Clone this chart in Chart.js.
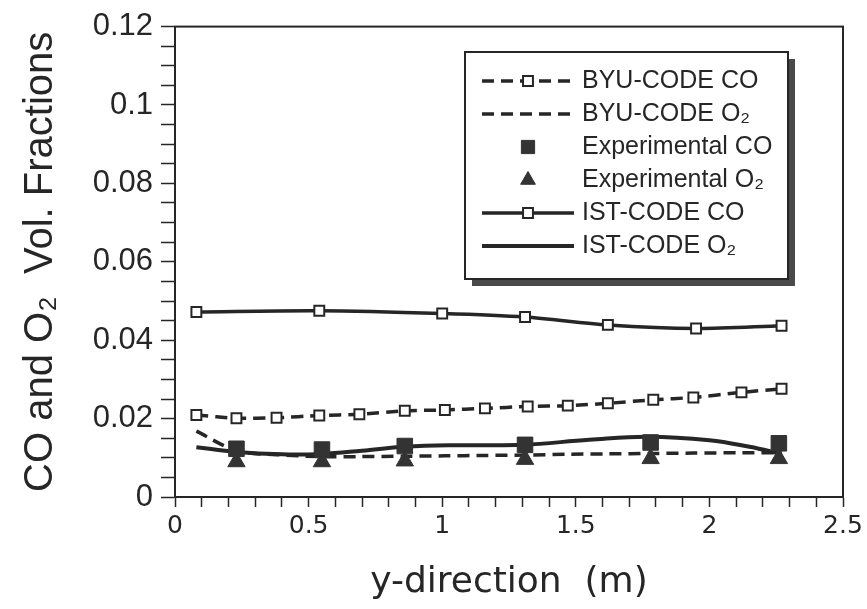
<!DOCTYPE html>
<html>
<head>
<meta charset="utf-8">
<script src="https://cdn.jsdelivr.net/npm/chart.js@4.4.1/dist/chart.umd.min.js"></script>
<style>
  html, body { margin: 0; padding: 0; background: #fff; }
  #wrap { width: 867px; height: 609px; }
</style>
</head>
<body>
<div id="wrap"><canvas id="co-o2-chart" width="867" height="609"></canvas></div>
<script>
// values
const byuX   = [0.08, 0.23, 0.38, 0.54, 0.69, 0.86, 1.01, 1.16, 1.32, 1.47, 1.62, 1.79, 1.94, 2.12, 2.27];
const byuCO  = [0.0209, 0.0201, 0.0202, 0.0208, 0.0211, 0.0220, 0.0222, 0.0226, 0.0231, 0.0233, 0.0239, 0.0248, 0.0254, 0.0267, 0.0276];
const byuO2  = [0.0168, 0.0118, 0.0108, 0.0103, 0.0103, 0.0104, 0.0105, 0.0106, 0.0107, 0.0109, 0.0110, 0.0111, 0.0112, 0.0113, 0.0113];

const expX   = [0.23, 0.55, 0.86, 1.31, 1.78, 2.26];
const expCO  = [0.0123, 0.0121, 0.0130, 0.0133, 0.0139, 0.0137];
const expO2  = [0.0090, 0.0090, 0.0092, 0.0096, 0.0098, 0.0098];

const istCoX = [0.08, 0.54, 1.00, 1.31, 1.62, 1.95, 2.27];
const istCO  = [0.0472, 0.0475, 0.0468, 0.0459, 0.0439, 0.0430, 0.0437];

const istO2X = [0.08, 0.23, 0.40, 0.55, 0.70, 0.86, 1.05, 1.30, 1.55, 1.77, 2.00, 2.15, 2.27];
const istO2  = [0.0127, 0.0115, 0.0109, 0.0110, 0.0118, 0.0128, 0.0132, 0.0133, 0.0146, 0.0154, 0.0145, 0.0128, 0.0110];

const xLabelTicks = ['0', '0.5', '1', '1.5', '2', '2.5'];
const yLabelTicks = ['0', '0.02', '0.04', '0.06', '0.08', '0.1', '0.12'];

const INK = '#262626';

function pts(xs, ys) {
    return xs.map((x, i) => ({ x: x, y: ys[i] }));
}

// full frame round the plot area
const framePlugin = {
    id: 'frame',
    afterDatasetsDraw(chart) {
        const a = chart.chartArea;
        const ctx = chart.ctx;
        ctx.save();
        ctx.strokeStyle = INK;
        ctx.lineWidth = 2;
        ctx.strokeRect(a.left, a.top, a.right - a.left, a.bottom - a.top);
        ctx.restore();
    }
};

// boxed legend with drop shadow, line + marker samples
const boxLegend = {
    id: 'boxLegend',
    afterDraw(chart) {
        const ctx = chart.ctx;
        const box = { x: 465, y: 52, w: 323, h: 227 };
        ctx.save();
        ctx.fillStyle = '#4a4a4a';
        ctx.fillRect(box.x + 7, box.y + 7, box.w, box.h);
        ctx.fillStyle = '#fff';
        ctx.fillRect(box.x, box.y, box.w, box.h);
        ctx.strokeStyle = INK;
        ctx.lineWidth = 2;
        ctx.strokeRect(box.x, box.y, box.w, box.h);

        const x0 = 482, x1 = 574, xm = 528;
        chart.data.datasets.forEach((ds, i) => {
            const y = 81 + i * 33;
            if (ds.showLine !== false) {
                ctx.save();
                ctx.strokeStyle = ds.borderColor;
                ctx.lineWidth = ds.borderWidth;
                ctx.setLineDash(ds.borderDash || []);
                ctx.beginPath();
                ctx.moveTo(x0, y);
                ctx.lineTo(x1, y);
                ctx.stroke();
                ctx.restore();
            }
            if (ds.pointRadius > 0) {
                ctx.save();
                ctx.fillStyle = ds.pointBackgroundColor;
                ctx.strokeStyle = ds.pointBorderColor;
                ctx.lineWidth = ds.pointBorderWidth;
                Chart.helpers.drawPoint(ctx, {
                    pointStyle: ds.pointStyle,
                    radius: ds.showLine === false ? ds.pointRadius * 0.85 : ds.pointRadius,
                    rotation: 0,
                    borderWidth: ds.pointBorderWidth
                }, xm, y);
                ctx.restore();
            }
            ctx.fillStyle = INK;
            ctx.font = '25px "Liberation Sans", Arial, sans-serif';
            ctx.textBaseline = 'middle';
            ctx.fillText(ds.label, 582, y);
        });
        ctx.restore();
    }
};

const ctx = document.getElementById('co-o2-chart').getContext('2d');
new Chart(ctx, {
    type: 'line',
    data: {
        datasets: [
            {
                label: 'BYU-CODE CO',
                data: pts(byuX, byuCO),
                borderColor: INK, borderWidth: 3.5, borderDash: [12, 7],
                pointStyle: 'rect', pointRadius: 7,
                pointBackgroundColor: '#fff', pointBorderColor: INK, pointBorderWidth: 2,
                tension: 0.2, order: 4
            },
            {
                label: 'BYU-CODE O\u2082',
                data: pts(byuX, byuO2),
                borderColor: INK, borderWidth: 3.5, borderDash: [12, 7],
                pointRadius: 0,
                tension: 0.3, order: 5
            },
            {
                label: 'Experimental CO',
                data: pts(expX, expCO),
                showLine: false,
                pointStyle: 'rect', pointRadius: 11,
                pointBackgroundColor: '#333', pointBorderColor: '#333', pointBorderWidth: 1,
                order: 1
            },
            {
                label: 'Experimental O\u2082',
                data: pts(expX, expO2),
                showLine: false,
                pointStyle: 'triangle', pointRadius: 10,
                pointBackgroundColor: '#333', pointBorderColor: '#333', pointBorderWidth: 1,
                order: 0
            },
            {
                label: 'IST-CODE CO',
                data: pts(istCoX, istCO),
                borderColor: INK, borderWidth: 3.5,
                pointStyle: 'rect', pointRadius: 7,
                pointBackgroundColor: '#fff', pointBorderColor: INK, pointBorderWidth: 2,
                tension: 0.3, order: 2
            },
            {
                label: 'IST-CODE O\u2082',
                data: pts(istO2X, istO2),
                borderColor: INK, borderWidth: 4,
                pointRadius: 0,
                tension: 0.4, order: 3
            }
        ]
    },
    options: {
        responsive: false,
        animation: false,
        events: [],
        layout: { padding: { top: 20, right: 24, left: 0, bottom: 0 } },
        plugins: {
            legend: { display: false },
            tooltip: { enabled: false }
        },
        scales: {
            x: {
                type: 'linear',
                min: 0, max: 2.5,
                border: { color: INK, width: 2 },
                grid: { drawOnChartArea: false, color: INK, tickLength: 10, tickWidth: 1.5 },
                ticks: {
                    stepSize: 0.1,
                    autoSkip: false,
                    maxRotation: 0,
                    padding: 4,
                    color: INK,
                    font: { family: '"DejaVu Sans", sans-serif', size: 25 },
                    callback(v) {
                        const k = Math.round(v * 10);
                        return k % 5 === 0 ? xLabelTicks[k / 5] : '';
                    }
                },
                title: {
                    display: true,
                    text: 'y-direction  (m)',
                    color: INK,
                    font: { family: '"DejaVu Sans", sans-serif', size: 36 },
                    padding: { top: 0, bottom: 5 }
                },
                afterFit(scale) { scale.height = 112; }
            },
            y: {
                min: 0, max: 0.12,
                border: { color: INK, width: 2 },
                grid: { drawOnChartArea: false, color: INK, tickLength: 14, tickWidth: 1.5 },
                ticks: {
                    stepSize: 0.005,
                    autoSkip: false,
                    padding: 8,
                    color: INK,
                    font: { family: '"Liberation Sans", Arial, sans-serif', size: 31 },
                    callback(v) {
                        const k = Math.round(v * 200);
                        return k % 4 === 0 ? yLabelTicks[k / 4] : '';
                    }
                },
                title: {
                    display: true,
                    text: 'CO and O\u2082  Vol. Fractions',
                    color: INK,
                    font: { family: '"Liberation Sans", Arial, sans-serif', size: 40 },
                    padding: { top: 17, bottom: 0 }
                },
                afterFit(scale) { scale.width = 175; }
            }
        }
    },
    plugins: [framePlugin, boxLegend]
});
</script>
</body>
</html>
